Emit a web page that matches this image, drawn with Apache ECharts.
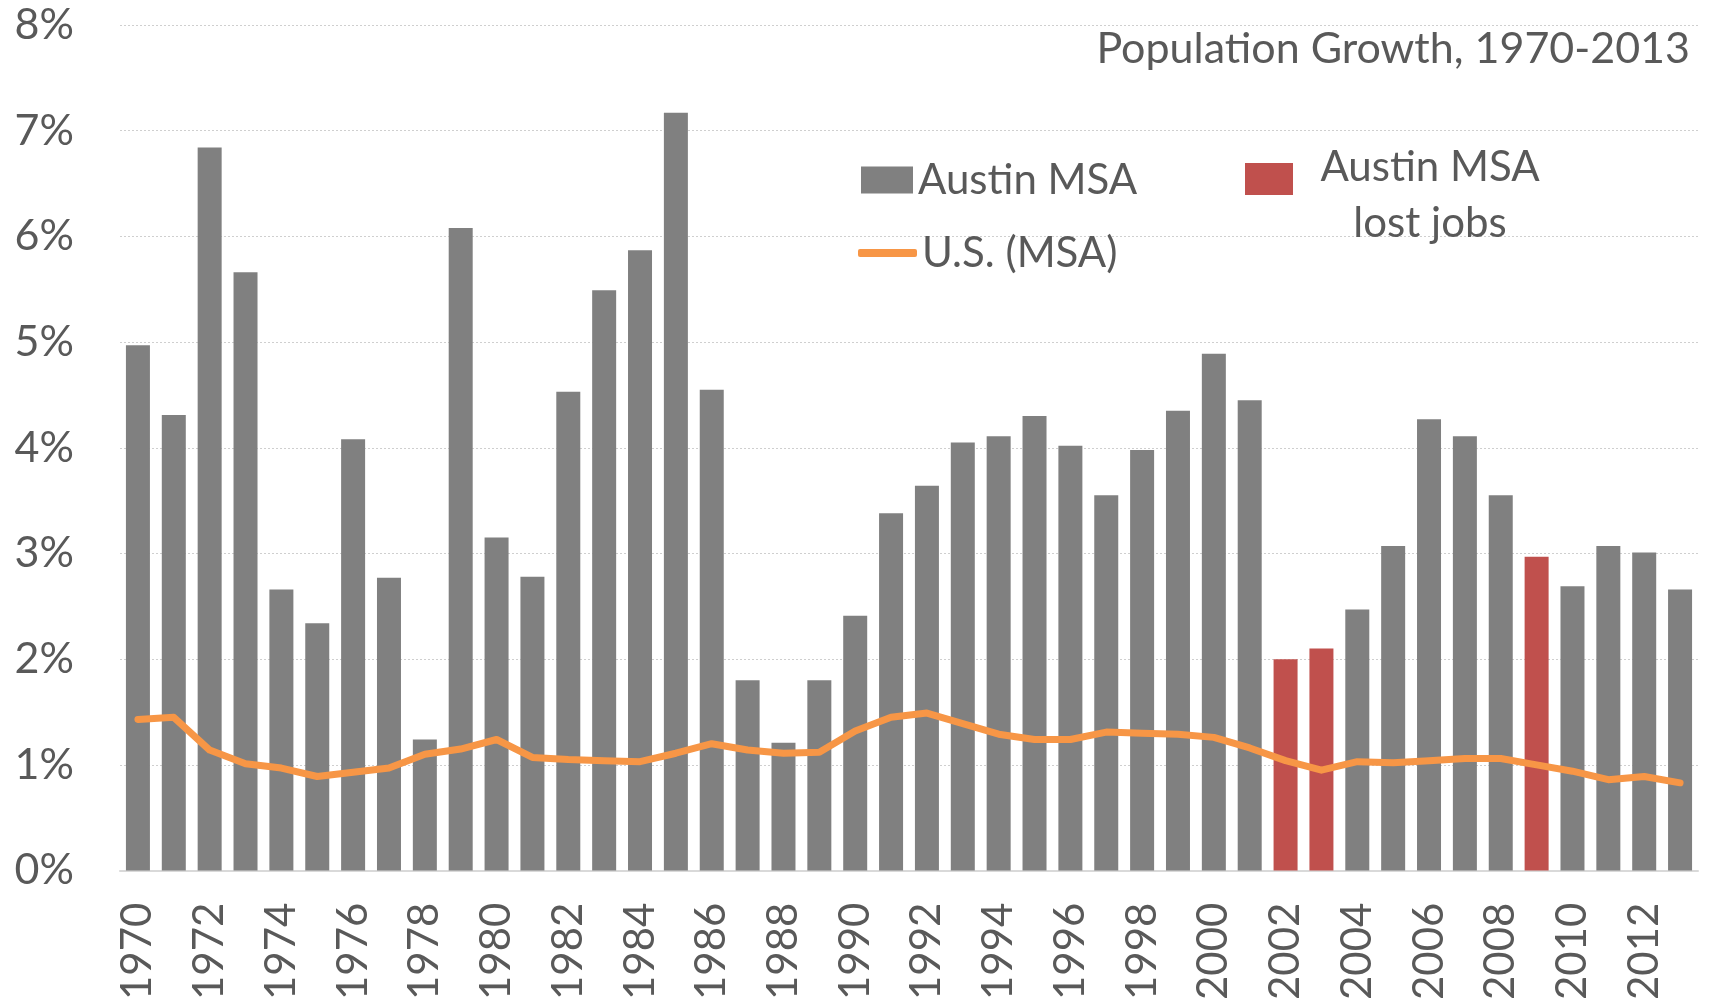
<!DOCTYPE html>
<html>
<head>
<meta charset="utf-8">
<script src="https://cdn.jsdelivr.net/npm/echarts@6/dist/echarts.min.js"></script>
<style>
html,body{margin:0;padding:0;background:#fff;}
#chart{width:1721px;height:1003px;}
</style>
</head>
<body>
<div id="chart"></div>
<script>
var years = ['1970','1971','1972','1973','1974','1975','1976','1977','1978','1979',
  '1980','1981','1982','1983','1984','1985','1986','1987','1988','1989',
  '1990','1991','1992','1993','1994','1995','1996','1997','1998','1999',
  '2000','2001','2002','2003','2004','2005','2006','2007','2008','2009',
  '2010','2011','2012','2013'];
var austinGrowth = [4.97,4.31,6.84,5.66,2.66,2.34,4.08,2.77,1.24,6.08,
  3.15,2.78,4.53,5.49,5.87,7.17,4.55,1.80,1.21,1.80,
  2.41,3.38,3.64,4.05,4.11,4.30,4.02,3.55,3.98,4.35,
  4.89,4.45,2.00,2.10,2.47,3.07,4.27,4.11,3.55,2.97,
  2.69,3.07,3.01,2.66];
var usGrowth = [1.43,1.45,1.14,1.01,0.97,0.89,0.93,0.97,1.10,1.15,
  1.24,1.07,1.05,1.04,1.03,1.11,1.20,1.14,1.11,1.12,
  1.32,1.45,1.49,1.39,1.29,1.24,1.24,1.31,1.30,1.29,
  1.26,1.16,1.04,0.95,1.03,1.02,1.04,1.06,1.06,1.00,
  0.94,0.86,0.89,0.83];
var lostJobYears = ['2002','2003','2009'];
var yTicks = [0,1,2,3,4,5,6,7,8];

var grayData = years.map(function(y,i){ return lostJobYears.indexOf(y) >= 0 ? null : austinGrowth[i]; });
var redData = years.map(function(y,i){ return lostJobYears.indexOf(y) >= 0 ? austinGrowth[i] : null; });

var FONT = 'Lato';
var TXT = '#595959';
var chart = echarts.init(document.getElementById('chart'));
chart.setOption({
  backgroundColor: '#ffffff',
  animation: false,
  textStyle: { fontFamily: FONT, color: TXT },
  title: {
    text: 'Population Growth, 1970-2013',
    right: 31, top: 23, padding: 0,
    textStyle: { fontFamily: FONT, fontSize: 43, fontWeight: 'normal', color: TXT, lineHeight: 52 }
  },
  legend: [
    {
      data: [{ name: 'Austin MSA', icon: 'rect' }],
      left: 861, top: 155, padding: 0,
      itemWidth: 52, itemHeight: 27,
      selectedMode: false,
      textStyle: { fontFamily: FONT, fontSize: 42, color: TXT, lineHeight: 50 }
    },
    {
      data: [{ name: 'U.S. (MSA)', icon: 'roundRect' }],
      left: 858, top: 228, padding: 0,
      itemWidth: 59, itemHeight: 8,
      selectedMode: false,
      itemStyle: { color: '#F79646' },
      textStyle: { fontFamily: FONT, fontSize: 42, color: TXT, lineHeight: 50 }
    },
    {
      data: [{ name: 'Austin MSA lost jobs', icon: 'rect' }],
      left: 1245, top: 119, padding: 0,
      itemWidth: 48, itemHeight: 32,
      selectedMode: false,
      formatter: function(){ return '{s| }\n{a|Austin MSA}\n{a|lost jobs}'; },
      textStyle: {
        fontFamily: FONT, fontSize: 42, color: TXT,
        rich: {
          s: { fontSize: 8, lineHeight: 33 },
          a: { fontFamily: FONT, fontSize: 42, color: TXT, lineHeight: 56, width: 264, align: 'center' }
        }
      }
    }
  ],
  grid: { left: 120, right: 23, top: 25, bottom: 128, containLabel: false },
  xAxis: {
    type: 'category',
    data: years,
    axisTick: { show: false },
    axisLine: { lineStyle: { color: '#d9d9d9', width: 2 } },
    axisLabel: { interval: 1, rotate: 90, margin: 32, fontFamily: FONT, fontSize: 42, color: TXT }
  },
  yAxis: {
    type: 'value',
    min: yTicks[0], max: yTicks[yTicks.length-1], interval: 1,
    axisLine: { show: false },
    axisTick: { show: false },
    axisLabel: { margin: 46, fontFamily: FONT, fontSize: 43, color: TXT, formatter: '{value}%' },
    splitLine: { lineStyle: { color: '#cfcfcf', width: 1, type: [2, 2] } }
  },
  series: [
    {
      name: 'Austin MSA', type: 'bar', stack: 'austin', data: grayData,
      barWidth: 24, itemStyle: { color: '#808080' }
    },
    {
      name: 'Austin MSA lost jobs', type: 'bar', stack: 'austin', data: redData,
      barWidth: 24, itemStyle: { color: '#C0504D' }
    },
    {
      name: 'U.S. (MSA)', type: 'line', data: usGrowth,
      symbol: 'none', smooth: false,
      lineStyle: { color: '#F79646', width: 7, cap: 'round', join: 'round' },
      itemStyle: { color: '#F79646' },
      z: 5
    }
  ]
});
</script>
</body>
</html>
